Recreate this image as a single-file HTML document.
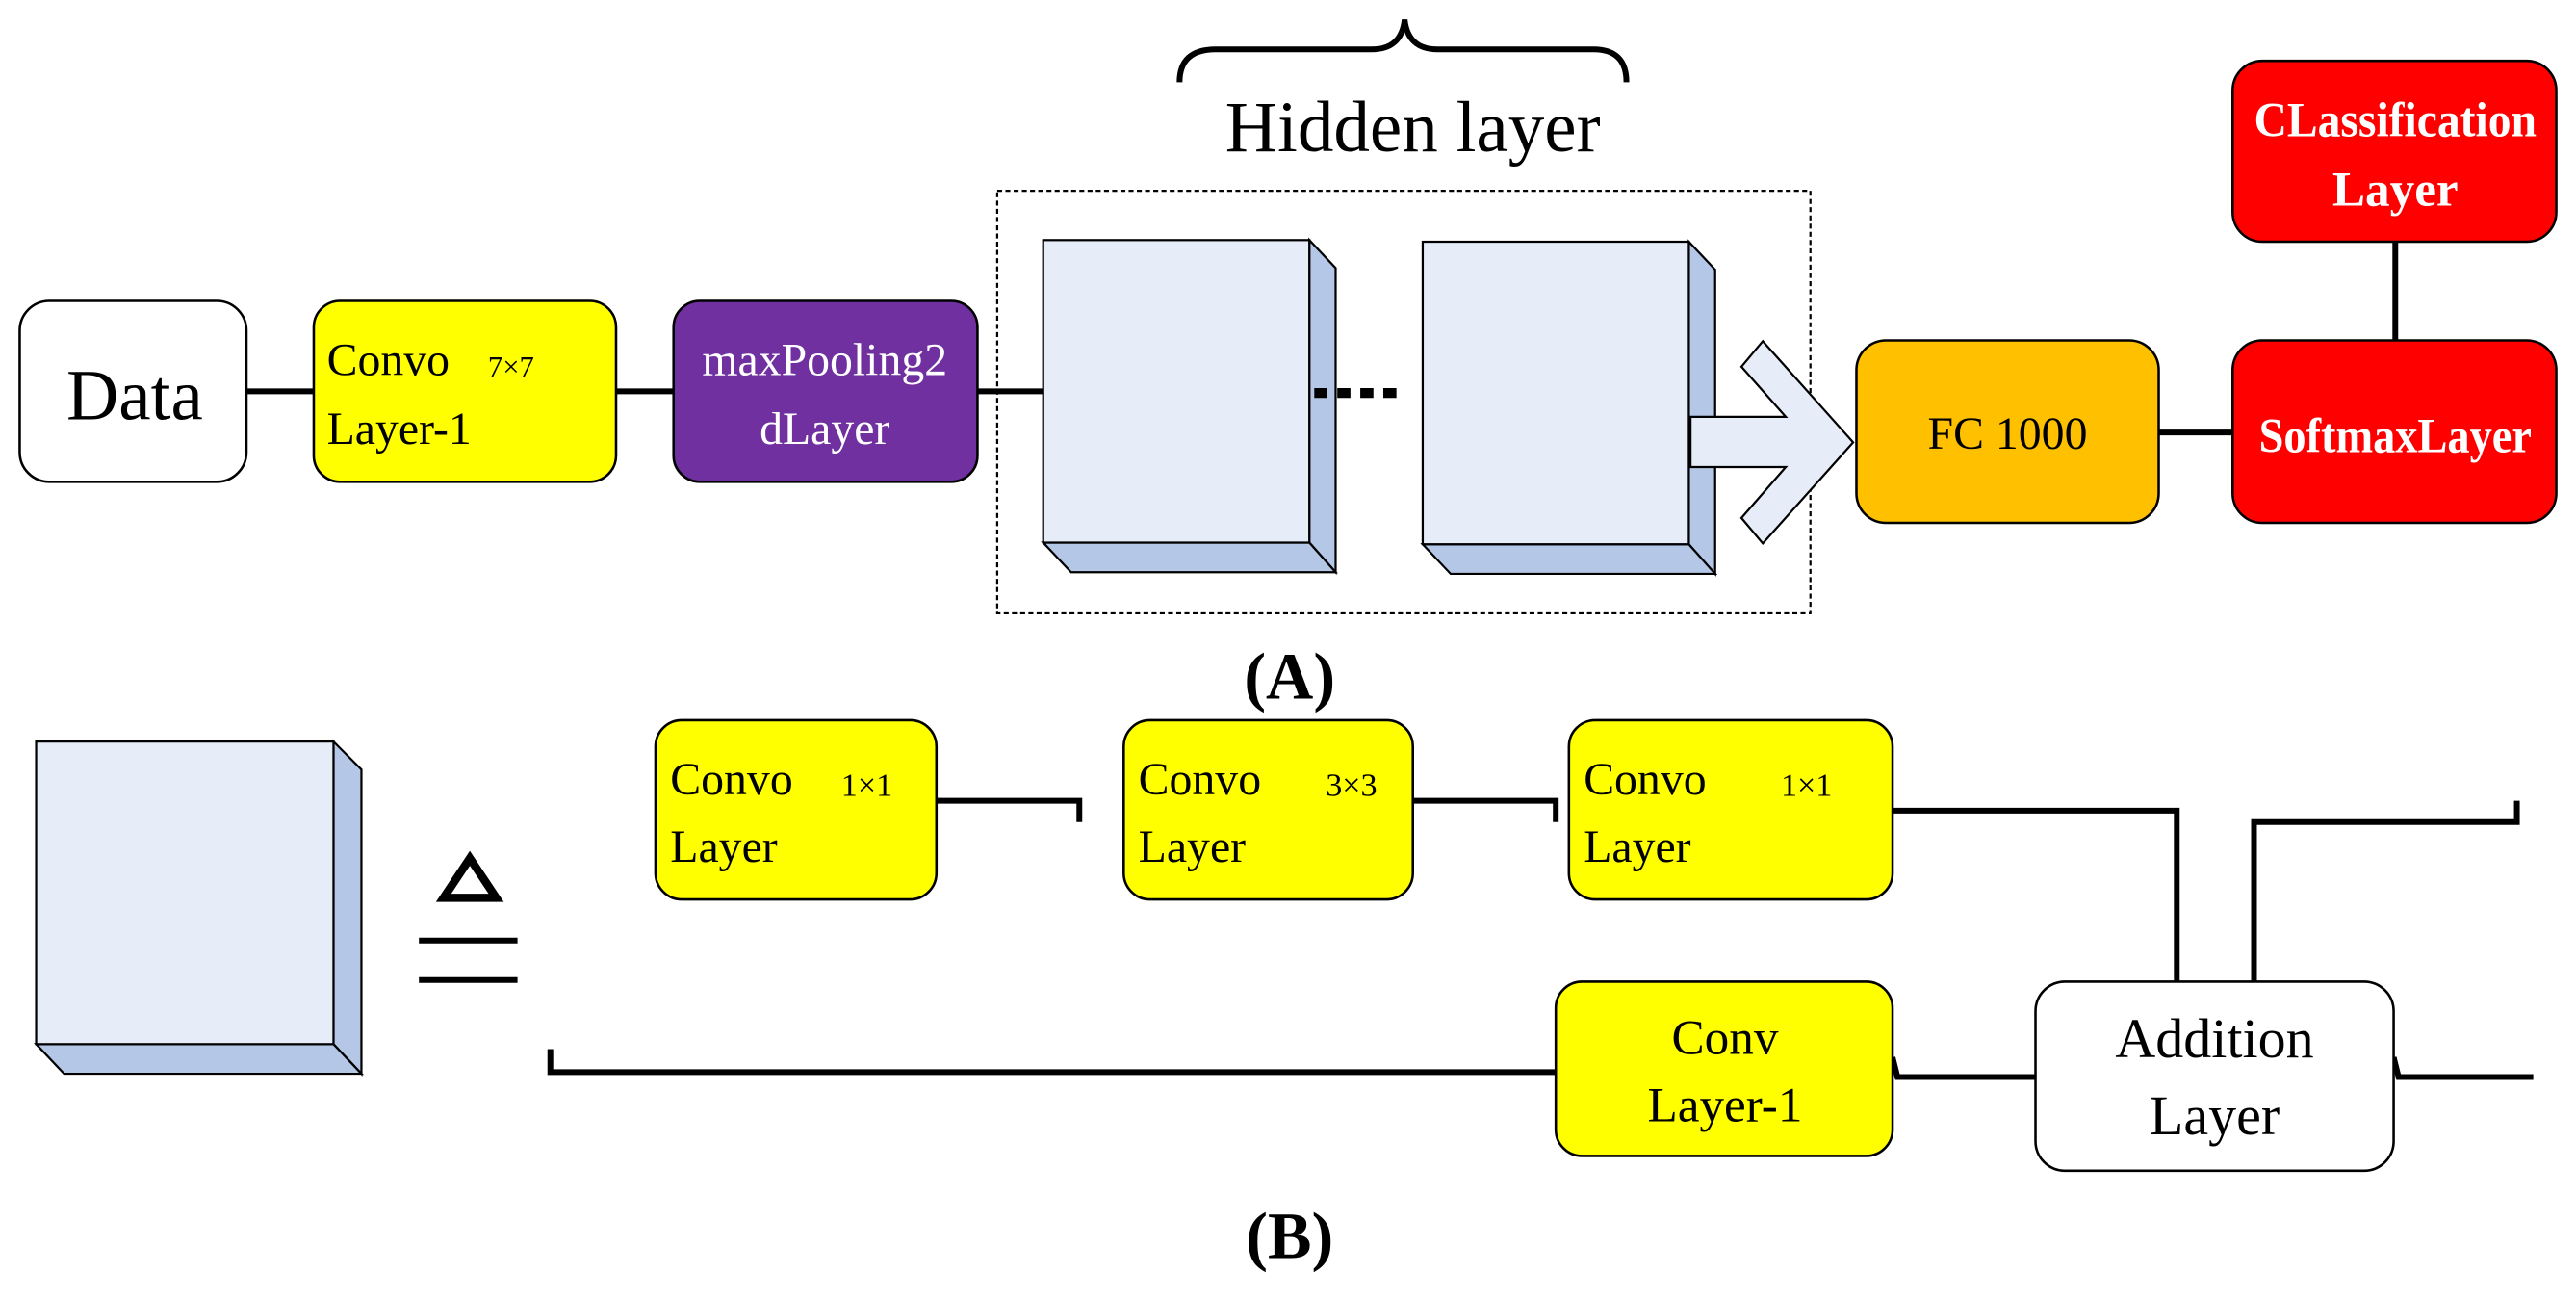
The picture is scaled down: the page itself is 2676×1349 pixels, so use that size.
<!DOCTYPE html>
<html><head><meta charset="utf-8"><style>
html,body{margin:0;padding:0;background:#fff;}
svg{display:block;}
text{font-family:"Liberation Serif",serif;}
</style></head><body>
<svg width="2676" height="1349" viewBox="0 0 1568 790" preserveAspectRatio="none" xmlns="http://www.w3.org/2000/svg">
<g stroke="#000" stroke-width="2" fill="none">
<!-- brace -->
<path d="M718,50 Q718,30 740,30 L835,30 Q853,30 855,12 Q857,30 875,30 L970,30 Q990,30 990,50" stroke-width="3.5"/>
</g>
<text x="860" y="92" font-size="44" text-anchor="middle">Hidden layer</text>
<!-- A row lines -->
<g stroke="#000" stroke-width="3.5">
<line x1="150" y1="238" x2="192" y2="238"/>
<line x1="375" y1="238" x2="411" y2="238"/>
<line x1="595" y1="238" x2="637" y2="238"/>
<line x1="1314" y1="263" x2="1360" y2="263"/>
<line x1="1458" y1="147" x2="1458" y2="208"/>
</g>
<rect x="607" y="116" width="495" height="257" fill="none" stroke="#000" stroke-width="1.3" stroke-dasharray="3,2"/>
<rect x="12" y="183" width="138" height="110" rx="18" fill="#fff" stroke="#000" stroke-width="1.5"/>
<text x="82" y="255" font-size="44" text-anchor="middle">Data</text>
<rect x="191" y="183" width="184" height="110" rx="16" fill="#ffff00" stroke="#000" stroke-width="1.5"/>
<text x="199" y="228" font-size="28">Convo</text><text x="297" y="229" font-size="18">7×7</text>
<text x="199" y="270" font-size="28">Layer-1</text>
<rect x="410" y="183" width="185" height="110" rx="16" fill="#7030a0" stroke="#000" stroke-width="1.5"/>
<text x="502" y="228" font-size="28" fill="#fff" text-anchor="middle">maxPooling2</text>
<text x="502" y="270" font-size="28" fill="#fff" text-anchor="middle">dLayer</text>
<!-- cubes -->
<g stroke="#000" stroke-width="1.3">
<polygon points="797,146 813,163 813,348 797,330" fill="#b4c7e7"/>
<polygon points="635,330 797,330 813,348 652,348" fill="#b4c7e7"/>
<rect x="635" y="146" width="162" height="184" fill="#e6edf8"/>
<polygon points="1028,147 1044,164 1044,349 1028,331" fill="#b4c7e7"/>
<polygon points="866,331 1028,331 1044,349 883,349" fill="#b4c7e7"/>
<rect x="866" y="147" width="162" height="184" fill="#e6edf8"/>
<polygon points="1029,253.5 1087,253.5 1060,223 1073,207.5 1128,269 1073,330.5 1060,315 1087,284 1029,284" fill="#e6edf8"/>
</g>
<line x1="800" y1="239" x2="856" y2="239" stroke="#000" stroke-width="6" stroke-dasharray="8,6"/>
<rect x="1130" y="207" width="184" height="111" rx="18" fill="#ffc000" stroke="#000" stroke-width="1.5"/>
<text x="1222" y="273" font-size="28" text-anchor="middle">FC 1000</text>
<rect x="1359" y="207" width="197" height="111" rx="18" fill="#ff0000" stroke="#000" stroke-width="1.5"/>
<text x="1458" y="275" font-size="30" fill="#fff" text-anchor="middle" font-weight="bold" textLength="166" lengthAdjust="spacingAndGlyphs">SoftmaxLayer</text>
<rect x="1359" y="37" width="197" height="110" rx="18" fill="#ff0000" stroke="#000" stroke-width="1.5"/>
<text x="1458" y="83" font-size="30" fill="#fff" text-anchor="middle" font-weight="bold" textLength="172" lengthAdjust="spacingAndGlyphs">CLassification</text>
<text x="1458" y="125" font-size="30" fill="#fff" text-anchor="middle" font-weight="bold">Layer</text>
<text x="785" y="425" font-size="40" font-weight="bold" text-anchor="middle">(A)</text>
<!-- B -->
<g stroke="#000" stroke-width="1.3">
<polygon points="203,451 220,468 220,653 203,635" fill="#b4c7e7"/>
<polygon points="22,635 203,635 220,653 39,653" fill="#b4c7e7"/>
<rect x="22" y="451" width="181" height="184" fill="#e6edf8"/>
</g>
<polygon points="286,522 302,546 270,546" fill="none" stroke="#000" stroke-width="5"/>
<g stroke="#000" stroke-width="3.5" fill="none">
<line x1="255" y1="572" x2="315" y2="572"/>
<line x1="255" y1="596" x2="315" y2="596"/>
<polyline points="570,487 657,487 657,500"/>
<polyline points="860,487 947,487 947,500"/>
<polyline points="1152,493 1325,493 1325,598"/>
<polyline points="1372,598 1372,500 1532,500 1532,487"/>
<polyline points="335,638 335,652 948,652"/>
<polyline points="1152,643 1155,655 1240,655"/>
<polyline points="1457,643 1460,655 1542,655"/>
</g>
<rect x="399" y="438" width="171" height="109" rx="16" fill="#ffff00" stroke="#000" stroke-width="1.5"/>
<text x="408" y="483" font-size="28">Convo</text><text x="512" y="484" font-size="20">1×1</text>
<text x="408" y="524" font-size="28">Layer</text>
<rect x="684" y="438" width="176" height="109" rx="16" fill="#ffff00" stroke="#000" stroke-width="1.5"/>
<text x="693" y="483" font-size="28">Convo</text><text x="807" y="484" font-size="20">3×3</text>
<text x="693" y="524" font-size="28">Layer</text>
<rect x="955" y="438" width="197" height="109" rx="16" fill="#ffff00" stroke="#000" stroke-width="1.5"/>
<text x="964" y="483" font-size="28">Convo</text><text x="1084" y="484" font-size="20">1×1</text>
<text x="964" y="524" font-size="28">Layer</text>
<rect x="947" y="597" width="205" height="106" rx="16" fill="#ffff00" stroke="#000" stroke-width="1.5"/>
<text x="1050" y="641" font-size="30" text-anchor="middle">Conv</text>
<text x="1050" y="682" font-size="30" text-anchor="middle">Layer-1</text>
<rect x="1239" y="597" width="218" height="115" rx="18" fill="#fff" stroke="#000" stroke-width="1.5"/>
<text x="1348" y="643" font-size="34" text-anchor="middle">Addition</text>
<text x="1348" y="690" font-size="34" text-anchor="middle">Layer</text>
<text x="785" y="765" font-size="40" font-weight="bold" text-anchor="middle">(B)</text>
</svg>
</body></html>
